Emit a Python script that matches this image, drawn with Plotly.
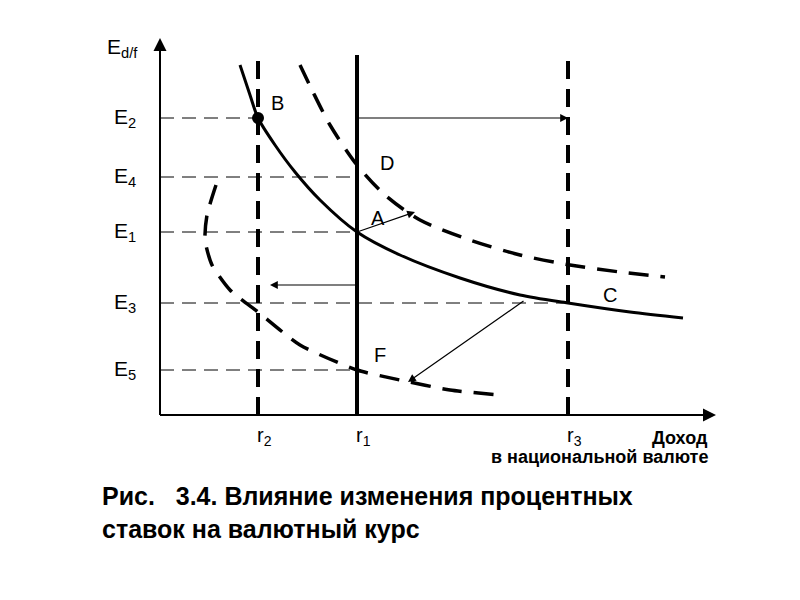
import plotly.graph_objects as go

# diagram coordinates (picture units, y grows downward)
levels = {"E<sub>2</sub>": 118, "E<sub>4</sub>": 177, "E<sub>1</sub>": 232, "E<sub>3</sub>": 303, "E<sub>5</sub>": 370}
level_ends = [258, 357, 357, 568, 357]
verticals = {"r<sub>2</sub>": 258, "r<sub>1</sub>": 357, "r<sub>3</sub>": 568}
vert_dash = ["dash", "solid", "dash"]

main_x = [240, 250, 258, 275, 295, 320, 357, 400, 460, 520, 568, 630, 683]
main_y = [65, 95, 118, 145, 172, 200, 232, 255, 278, 295, 303, 312, 318]
upper_x = [300, 312, 330, 357, 385, 420, 470, 520, 570, 620, 665]
upper_y = [65, 90, 125, 165, 195, 220, 240, 255, 265, 272, 277]
lower_x = [216, 207, 205, 212, 230, 258, 300, 357, 400, 450, 500]
lower_y = [185, 215, 240, 265, 290, 312, 345, 370, 380, 390, 395]

points = {"B": (277, 103), "D": (387, 163), "A": (378, 218), "C": (610, 295), "F": (380, 355)}

fig = go.Figure()
black = "black"
fig.add_trace(go.Scatter(x=main_x, y=main_y, mode="lines", line=dict(color=black, width=3, shape="spline", smoothing=0.8)))
fig.add_trace(go.Scatter(x=upper_x, y=upper_y, mode="lines", line=dict(color=black, width=3.5, dash="20px,12px", shape="spline", smoothing=0.8)))
fig.add_trace(go.Scatter(x=lower_x, y=lower_y, mode="lines", line=dict(color=black, width=3.5, dash="20px,12px", shape="spline", smoothing=0.6)))
fig.add_trace(go.Scatter(x=[258], y=[118], mode="markers", marker=dict(color=black, size=12)))

shapes = []
for (lab, y), xe in zip(levels.items(), level_ends):
    shapes.append(dict(type="line", x0=160, x1=xe, y0=y, y1=y, line=dict(color=black, width=1, dash="14px,8px")))
    fig.add_annotation(x=125, y=y, text=lab, showarrow=False, font=dict(size=21, color=black))
for (lab, x), d in zip(verticals.items(), vert_dash):
    shapes.append(dict(type="line", x0=x, x1=x, y0=415, y1=55,
                       line=dict(color=black, width=4, dash="18px,10px" if d == "dash" else "solid")))
    fig.add_annotation(x=x + 6, y=436, text=lab, showarrow=False, font=dict(size=20, color=black))
shapes.append(dict(type="line", x0=160, x1=160, y0=415, y1=50, line=dict(color=black, width=2)))
shapes.append(dict(type="line", x0=160, x1=700, y0=415, y1=415, line=dict(color=black, width=2)))
fig.update_layout(shapes=shapes)

def arrow(x0, y0, x1, y1, w=1.2):
    fig.add_annotation(x=x1, y=y1, ax=x0, ay=y0, axref="x", ayref="y", xref="x", yref="y",
                       text="", showarrow=True, arrowhead=2, arrowsize=1.3, arrowwidth=w, arrowcolor=black)

arrow(160, 415, 160, 38, 2)
arrow(160, 415, 716, 415, 2)
arrow(357, 118, 568, 118)
arrow(357, 285, 270, 285)
arrow(357, 232, 415, 212)
arrow(525, 300, 408, 382)

for lab, (x, y) in points.items():
    fig.add_annotation(x=x, y=y, text=lab, showarrow=False, font=dict(size=20, color=black))
fig.add_annotation(x=122, y=48, text="E<sub>d/f</sub>", showarrow=False, font=dict(size=21, color=black))
fig.add_annotation(x=710, y=438, xanchor="right", text="<b>Доход</b>", showarrow=False, font=dict(size=18, color=black))
fig.add_annotation(x=710, y=457, xanchor="right", text="<b>в национальной валюте</b>", showarrow=False, font=dict(size=18, color=black))
fig.add_annotation(x=100, y=512, xanchor="left", align="left", showarrow=False,
                   text="<b>Рис.   3.4. Влияние изменения процентных<br>ставок на валютный курс</b>",
                   font=dict(size=25, color=black))

# page body has an 8px margin, so shift the ranges to keep picture units
fig.update_layout(width=800, height=600, margin=dict(l=0, r=0, t=0, b=0), showlegend=False,
                  plot_bgcolor="white", paper_bgcolor="white",
                  font=dict(family="Liberation Sans, Arial"),
                  xaxis=dict(range=[8, 808], visible=False),
                  yaxis=dict(range=[608, 8], visible=False))
fig.write_html("out.html")
